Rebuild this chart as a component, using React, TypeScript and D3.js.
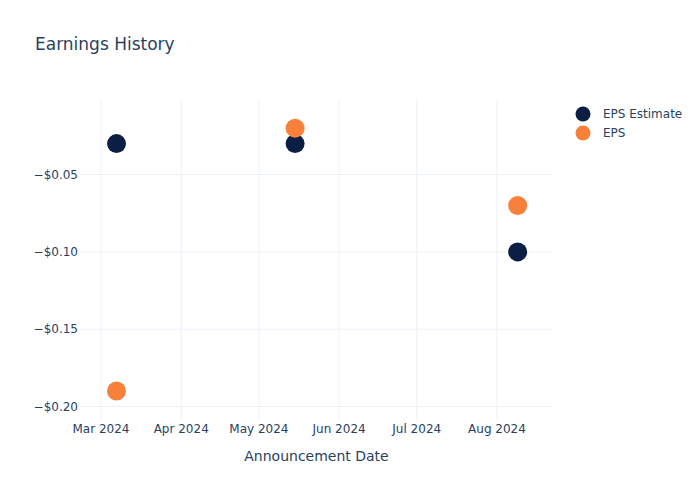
import React from "react";
import * as d3 from "d3";

const dates = ["2024-03-07", "2024-05-15", "2024-08-09"];
const epsEstimate = [-0.03, -0.03, -0.1];
const epsActual = [-0.19, -0.02, -0.07];
const yTicks = [-0.05, -0.1, -0.15, -0.2];
const xTicks = ["2024-03-01", "2024-04-01", "2024-05-01", "2024-06-01", "2024-07-01", "2024-08-01"];
const seriesNames = ["EPS Estimate", "EPS"];
const seriesColors = ["#0b1f44", "#f7803b"];

const W = 700, H = 500;
const L = 80, R = 553, T = 100, B = 420;
const font = "'DejaVu Sans', sans-serif";
const textColor = "#2a3f5f";
const gridColor = "#ebf0f8";

export default function App() {
  const parse = (s: string) => new Date(s + "T00:00:00Z");
  const day = 86400000;
  const x = d3.scaleUtc()
    .domain([new Date(parse("2024-03-01").getTime() - 8.11 * day), new Date(parse("2024-08-01").getTime() + 21.64 * day)])
    .range([L, R]);
  const y = d3.scaleLinear().domain([-0.2087, -0.0018]).range([B, T]);
  const fmtX = d3.utcFormat("%b %Y");
  const fmtY = (v: number) => "\u2212$" + Math.abs(v).toFixed(2);
  const series = [epsEstimate, epsActual];

  return (
    <svg width={W} height={H} style={{ position: "absolute", left: 0, top: 0, fontFamily: font }}>
      <rect width={W} height={H} fill="#fff" />
      {xTicks.map((t) => (
        <line key={t} x1={x(parse(t))} x2={x(parse(t))} y1={T} y2={B} stroke={gridColor} strokeWidth={1} />
      ))}
      {yTicks.map((t) => (
        <line key={t} x1={L} x2={R} y1={y(t)} y2={y(t)} stroke={gridColor} strokeWidth={1} />
      ))}
      {xTicks.map((t) => (
        <text key={t} x={x(parse(t))} y={433} textAnchor="middle" fontSize={12} fill={textColor}>
          {fmtX(parse(t))}
        </text>
      ))}
      {yTicks.map((t) => (
        <text key={t} x={L - 2} y={y(t)} dy="0.35em" textAnchor="end" fontSize={12} fill={textColor}>
          {fmtY(t)}
        </text>
      ))}
      {series.map((vals, si) =>
        vals.map((v, i) => (
          <circle key={si + "-" + i} cx={x(parse(dates[i]))} cy={y(v)} r={9.5} fill={seriesColors[si]} />
        ))
      )}
      <text x={35} y={50} fontSize={17} fill={textColor}>Earnings History</text>
      <text x={(L + R) / 2} y={461} textAnchor="middle" fontSize={14} fill={textColor}>Announcement Date</text>
      {seriesNames.map((n, i) => (
        <g key={n} transform={`translate(583, ${114 + i * 19})`}>
          <circle r={7.5} fill={seriesColors[i]} />
          <text x={20} dy="0.35em" fontSize={12} fill={textColor}>{n}</text>
        </g>
      ))}
    </svg>
  );
}
